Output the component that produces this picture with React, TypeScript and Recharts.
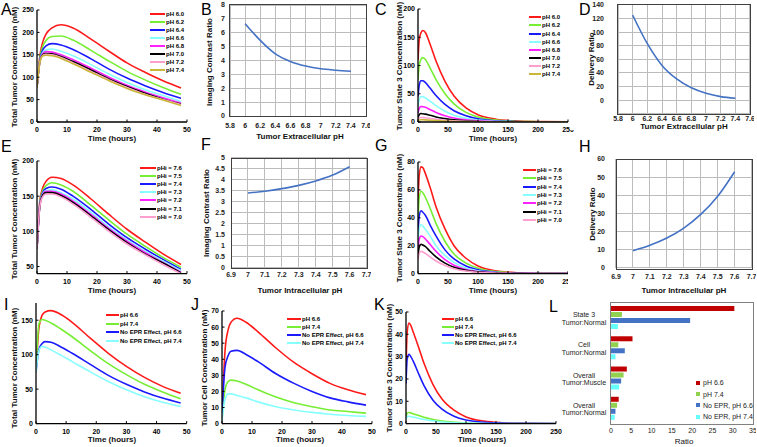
import React from 'react';
import { LineChart, Line, XAxis, YAxis, BarChart, Bar } from 'recharts';

const FONT = '"Liberation Sans", Arial, Helvetica, sans-serif';

// time grids (hours)
const hoursShort = [0, 1, 2, 3, 5, 8, 12, 18, 24, 30, 36, 42, 48];
const hoursLong = [0, 2, 5, 8, 12, 20, 30, 45, 60, 80, 100, 130, 160, 200, 250];

// legend labels + colours
const pheNames = ['pH 6.0', 'pH 6.2', 'pH 6.4', 'pH 6.6', 'pH 6.8', 'pH 7.0', 'pH 7.2', 'pH 7.4'];
const phiNames = ['pHi = 7.6', 'pHi = 7.5', 'pHi = 7.4', 'pHi = 7.3', 'pHi = 7.2', 'pHi = 7.1', 'pHi = 7.0'];
const eprNames = ['pH 6.6', 'pH 7.4', 'No EPR Effect, pH 6.6', 'No EPR Effect, pH 7.4'];
const lineColors = ['#ff1a1a', '#77ee33', '#1a1aff', '#88ffff', '#ff22ff', '#000000', '#ff9fcf', '#c9b838'];

// A: total tumor concentration vs pHe
const a60 = [78, 150, 180, 196, 210, 217, 210, 185, 158, 132, 111, 92, 76];
const a62 = [78, 145, 170, 182, 191, 192, 183, 160, 136, 113, 94, 77, 62];
const a64 = [78, 140, 162, 170, 175, 172, 162, 141, 118, 98, 81, 66, 53];
const a66 = [78, 138, 156, 161, 163, 158, 148, 128, 107, 88, 72, 59, 46];
const a68 = [78, 137, 153, 157, 156, 150, 139, 120, 100, 82, 67, 54, 42];
const a70 = [78, 136, 151, 153, 152, 146, 135, 116, 96, 79, 64, 51, 40];
const a72 = [78, 135, 149, 151, 150, 144, 132, 113, 94, 77, 62, 50, 39];
const a74 = [78, 134, 148, 149, 148, 142, 130, 111, 92, 75, 61, 49, 37];

// C: tumor state 3 concentration vs pHe
const c60 = [110, 145, 158, 162, 159, 138, 108, 72, 46, 25, 13, 5, 2, 0.7, 0.2];
const c62 = [75, 100, 111, 114, 111, 96, 75, 50, 32, 17, 9, 3.5, 1.4, 0.5, 0.1];
const c64 = [45, 65, 73, 73, 70, 60, 47, 31, 20, 11, 5.5, 2, 0.9, 0.3, 0.1];
const c66 = [27, 40, 45, 45, 43, 37, 29, 19, 12, 6.5, 3.4, 1.3, 0.5, 0.2, 0];
const c68 = [16, 24, 27.5, 27, 26, 22, 17, 11, 7, 3.8, 2, 0.8, 0.3, 0.1, 0];
const c70 = [8, 13, 15, 14.5, 14, 12, 9, 6, 3.8, 2, 1, 0.4, 0.2, 0.1, 0];
const c72 = [4, 7, 8, 7.8, 7.4, 6.3, 4.8, 3.1, 2, 1.1, 0.6, 0.2, 0.1, 0, 0];
const c74 = [2, 3.5, 4, 3.9, 3.7, 3.1, 2.4, 1.6, 1, 0.5, 0.3, 0.1, 0, 0, 0];

// E: total tumor concentration vs pHi
const e76 = [75, 145, 163, 171, 177, 175, 166, 146, 124, 103, 85, 68, 53];
const e75 = [75, 143, 159, 165, 169, 166, 157, 137, 116, 96, 79, 63, 49];
const e74 = [75, 141, 156, 161, 163, 160, 150, 131, 110, 91, 75, 60, 46];
const e73 = [75, 140, 154, 158, 159, 155, 146, 127, 106, 88, 72, 58, 44];
const e72 = [75, 139, 153, 157, 157, 153, 143, 124, 104, 86, 70, 56, 42];
const e71 = [75, 138, 152, 155, 155, 151, 141, 122, 102, 84, 68, 55, 41];
const e70 = [75, 137, 150, 153, 153, 149, 139, 120, 100, 82, 67, 53, 40];

// G: tumor state 3 concentration vs pHi
const g76 = [50, 70, 76.5, 76, 72, 62, 48, 32, 20, 11, 5.5, 2, 0.8, 0.3, 0.1];
const g75 = [38, 54, 59, 58, 55, 47, 36, 23, 14, 7.5, 3.8, 1.4, 0.5, 0.2, 0];
const g74 = [29, 41, 45, 44, 42, 35, 27, 17, 10.5, 5.5, 2.8, 1, 0.4, 0.1, 0];
const g73 = [22, 32, 35, 34, 32, 27, 20, 13, 8, 4, 2, 0.8, 0.3, 0.1, 0];
const g72 = [17, 24.5, 27, 26.5, 25, 21, 16, 10, 6, 3, 1.5, 0.6, 0.2, 0.1, 0];
const g71 = [13, 19, 21, 20.5, 19.5, 16, 12, 7.5, 4.5, 2.3, 1.2, 0.4, 0.2, 0, 0];
const g70 = [10, 14.5, 16, 15.5, 14.5, 12, 9, 5.8, 3.5, 1.8, 0.9, 0.3, 0.1, 0, 0];

// I: total tumor concentration, EPR comparison
const i66 = [75, 140, 157, 162, 164, 159, 147, 124, 102, 83, 67, 54, 44];
const i74 = [75, 145, 151, 150, 146, 138, 126, 106, 87, 71, 57, 46, 36];
const iNo66 = [75, 108, 116, 119, 118, 112, 102, 86, 70, 57, 46, 37, 30];
const iNo74 = [75, 106, 112, 111, 107, 100, 90, 75, 61, 49, 39, 31, 25];

// J: tumor cell concentration
const j66 = [5, 45, 58, 63, 65.5, 63, 57, 47, 38, 31, 25, 21, 18];
const j74 = [3, 21, 26, 27, 26.5, 24.5, 21, 16.5, 13, 10.5, 8.5, 7.5, 6.5];
const jNo66 = [5, 35, 42, 45, 45.5, 43, 38.5, 31, 25, 20, 16, 13.5, 11.5];
const jNo74 = [2, 15, 18.5, 18.5, 17.5, 16, 13.5, 10.5, 8.5, 7, 5.8, 5, 4.5];

// K: tumor state 3 concentration
const k66 = [25, 41, 45, 44, 41, 35, 27, 17.5, 11, 6, 3, 1.1, 0.4, 0.1, 0];
const k74 = [3, 4.7, 5, 4.8, 4.4, 3.7, 2.8, 1.8, 1.1, 0.6, 0.3, 0.1, 0, 0, 0];
const kNo66 = [18, 29, 31, 30, 28, 23, 17, 10.5, 6.5, 3.3, 1.6, 0.6, 0.2, 0.1, 0];
const kNo74 = [2, 3.2, 3.3, 3.1, 2.9, 2.4, 1.8, 1.2, 0.7, 0.4, 0.2, 0.1, 0, 0, 0];

// B, D: extracellular pH sweeps
const phExt = [6.0, 6.2, 6.4, 6.6, 6.8, 7.0, 7.2, 7.4];
const contrastExt = [6.65, 5.45, 4.48, 3.93, 3.6, 3.4, 3.3, 3.23];
const deliveryExt = [125, 83, 51, 31, 18, 10, 5, 2.5];

// F, H: intracellular pH sweeps
const phInt = [7.0, 7.1, 7.2, 7.3, 7.4, 7.5, 7.6];
const contrastInt = [3.4, 3.48, 3.6, 3.75, 3.95, 4.22, 4.6];
const deliveryInt = [9.5, 12.5, 16.5, 22, 29.5, 39.5, 53];

// L: ratios
const ratioCats = ['State 3\nTumor:Normal', 'Cell\nTumor:Normal', 'Overall\nTumor:Muscle', 'Overall\nTumor:Normal'];
const ratioPh66 = [30.4, 5.3, 3.9, 1.9];
const ratioPh74 = [2.7, 1.8, 3.1, 1.5];
const ratioNoEpr66 = [19.5, 3.4, 2.5, 1.1];
const ratioNoEpr74 = [1.7, 1.1, 2.0, 0.9];
const ratioNames = ['pH 6.6', 'pH 7.4', 'No EPR, pH 6.6', 'No EPR, pH 7.4'];
const ratioColors = ['#c00000', '#92d050', '#4472c4', '#66ffff'];

function toRows(t: number[], series: number[][]) {
  return t.map((x, i) => {
    const row: Record<string, number> = { t: x };
    series.forEach((s, j) => {
      row['s' + j] = s[i];
    });
    return row;
  });
}

const rowsA = toRows(hoursShort, [a60, a62, a64, a66, a68, a70, a72, a74]);
const rowsC = toRows(hoursLong, [c60, c62, c64, c66, c68, c70, c72, c74]);
const rowsE = toRows(hoursShort, [e76, e75, e74, e73, e72, e71, e70]);
const rowsG = toRows(hoursLong, [g76, g75, g74, g73, g72, g71, g70]);
const rowsI = toRows(hoursShort, [i66, i74, iNo66, iNo74]);
const rowsJ = toRows(hoursShort, [j66, j74, jNo66, jNo74]);
const rowsK = toRows(hoursLong, [k66, k74, kNo66, kNo74]);
const rowsB = toRows(phExt, [contrastExt]);
const rowsD = toRows(phExt, [deliveryExt]);
const rowsF = toRows(phInt, [contrastInt]);
const rowsH = toRows(phInt, [deliveryInt]);
const rowsL = ratioCats.map((c, i) => ({
  cat: c,
  a: ratioPh66[i],
  b: ratioPh74[i],
  c: ratioNoEpr66[i],
  d: ratioNoEpr74[i],
}));

type Box = { x0: number; y0: number; x1: number; y1: number };

function frame(box: Box, yw: number, xh: number, mt: number, mr: number) {
  return {
    left: box.x0 - yw,
    top: box.y0 - mt,
    width: box.x1 - box.x0 + yw + mr,
    height: box.y1 - box.y0 + mt + xh,
    margin: { top: mt, right: mr, bottom: 0, left: 0 },
  };
}

const range = (a: number, b: number, s: number) => {
  const out: number[] = [];
  for (let v = a; v <= b + 1e-9; v += s) out.push(Math.round(v * 100) / 100);
  return out;
};

const boldTick = { fontSize: 7, fontWeight: 700, fill: '#000', fontFamily: FONT };

// plot frame drawn on top of a panel's plotting box
function BoxBorder({ box, color }: { box: Box; color: string }) {
  return (
    <div
      style={{
        position: 'absolute',
        left: box.x0 - 0.6,
        top: box.y0 - 0.6,
        width: box.x1 - box.x0,
        height: box.y1 - box.y0,
        border: `1.2px solid ${color}`,
        pointerEvents: 'none',
      }}
    />
  );
}

// MATLAB style time course panel (inward ticks)
function TimePanel(p: {
  box: Box;
  rows: any[];
  count: number;
  xMax: number;
  yDomain: [number, number];
  yStep: number;
  yTickFrom?: number;
}) {
  const f = frame(p.box, 30, 18, 4, 6);
  return (
    <div style={{ position: 'absolute', left: f.left, top: f.top }}>
      <LineChart width={f.width} height={f.height} data={p.rows} margin={f.margin}>
        <XAxis
          type="number"
          dataKey="t"
          domain={[0, p.xMax]}
          ticks={range(0, p.xMax, p.xMax / 5)}
          interval={0}
          allowDataOverflow
          height={18}
          tickLine={{ stroke: '#000', strokeWidth: 1 }}
          tickSize={-2.5}
          tickMargin={8}
          axisLine={{ stroke: '#000', strokeWidth: 1.3 }}
          tick={boldTick}
        />
        <YAxis
          type="number"
          domain={p.yDomain}
          ticks={range(p.yTickFrom ?? p.yDomain[0], p.yDomain[1], p.yStep)}
          interval={0}
          allowDataOverflow
          width={30}
          tickLine={{ stroke: '#000', strokeWidth: 1 }}
          tickSize={-2.5}
          tickMargin={5.5}
          axisLine={{ stroke: '#000', strokeWidth: 1.3 }}
          tick={boldTick}
        />
        {Array.from({ length: p.count }, (_, i) => (
          <Line
            key={i}
            type="monotone"
            dataKey={'s' + i}
            stroke={lineColors[i]}
            strokeWidth={1.6}
            dot={false}
            isAnimationActive={false}
          />
        ))}
      </LineChart>
    </div>
  );
}

// Excel style sweep panel; the grid is the axes' tick lines stretched across the plot
function SweepPanel(p: {
  box: Box;
  rows: any[];
  xDomain: [number, number];
  xStep: number;
  yDomain: [number, number];
  yStep: number;
  yGap: number;
  xGap: number;
  hideNeg?: boolean;
  white?: boolean;
}) {
  const yw = 48;
  const f = frame(p.box, yw, 16, 4, 4);
  const plotW = p.box.x1 - p.box.x0;
  const plotH = p.box.y1 - p.box.y0;
  const gridLine = { stroke: '#bcbcbc', strokeWidth: 1, shapeRendering: 'crispEdges' };
  return (
    <>
      <div style={{ position: 'absolute', left: f.left, top: f.top, background: p.white ? '#fff' : 'transparent' }}>
        <LineChart width={f.width} height={f.height} data={p.rows} margin={f.margin}>
          <XAxis
            type="number"
            dataKey="t"
            domain={p.xDomain}
            ticks={range(p.xDomain[0], p.xDomain[1], p.xStep)}
            interval={0}
            allowDataOverflow
            height={16}
            tickLine={gridLine}
            axisLine={false}
            tickSize={-plotH}
            tickMargin={plotH + p.xGap}
            tick={{ ...boldTick, fill: '#222' }}
          />
          <YAxis
            type="number"
            domain={p.yDomain}
            ticks={range(p.yDomain[0], p.yDomain[1], p.yStep)}
            interval={0}
            allowDataOverflow
            width={yw}
            tickLine={gridLine}
            axisLine={false}
            tickSize={-plotW}
            tickMargin={plotW + p.yGap}
            tick={{ ...boldTick, fill: '#222' }}
            tickFormatter={(v: number) => (p.hideNeg && v < 0 ? '' : String(v))}
          />
          <Line
            type="monotone"
            dataKey="s0"
            stroke="#4472c4"
            strokeWidth={1.6}
            dot={false}
            isAnimationActive={false}
            zIndex={900}
          />
        </LineChart>
      </div>
      <BoxBorder box={p.box} color="#404040" />
    </>
  );
}

function CatTick(props: any) {
  const { x, y, payload } = props;
  const lines = String(payload.value).split('\n');
  return (
    <text x={x - 27} y={y} textAnchor="middle" fontSize={7} fill="#222" fontFamily={FONT}>
      {lines.map((l, i) => (
        <tspan key={i} x={x - 27} dy={i === 0 ? -1 : 7.5}>
          {l}
        </tspan>
      ))}
    </text>
  );
}

const ratioBox = { x0: 611, y0: 303, x1: 753, y1: 424 };

function RatioPanel() {
  const f = frame(ratioBox, 60, 16, 2, 3);
  return (
    <>
      <div style={{ position: 'absolute', left: f.left, top: f.top }}>
        <BarChart
          width={f.width}
          height={f.height}
          data={rowsL}
          layout="vertical"
          margin={f.margin}
          barCategoryGap="10%"
          barGap={1}
        >
          <XAxis
            type="number"
            domain={[0, 35]}
            ticks={range(0, 35, 5)}
            interval={0}
            height={16}
            tickLine={false}
            axisLine={false}
            tickSize={0}
            tickMargin={4}
            tick={{ fontSize: 7, fill: '#222', fontFamily: FONT }}
          />
          <YAxis
            type="category"
            dataKey="cat"
            width={60}
            tickLine={false}
            axisLine={false}
            tickSize={0}
            tickMargin={0}
            interval={0}
            tick={<CatTick />}
          />
          <Bar dataKey="a" fill={ratioColors[0]} isAnimationActive={false} />
          <Bar dataKey="b" fill={ratioColors[1]} isAnimationActive={false} />
          <Bar dataKey="c" fill={ratioColors[2]} isAnimationActive={false} />
          <Bar dataKey="d" fill={ratioColors[3]} isAnimationActive={false} />
        </BarChart>
      </div>
      <BoxBorder box={ratioBox} color="#808080" />
    </>
  );
}

function LineKey(p: { x: number; y: number; step: number; len: number; names: string[] }) {
  return (
    <>
      {p.names.map((n, i) => (
        <div
          key={n}
          style={{
            position: 'absolute',
            left: p.x,
            top: p.y + i * p.step - 4,
            height: 8,
            display: 'flex',
            alignItems: 'center',
            whiteSpace: 'nowrap',
            fontFamily: FONT,
            fontWeight: 700,
            fontSize: 6,
            lineHeight: 1,
          }}
        >
          <span style={{ display: 'inline-block', width: p.len, height: 2, background: lineColors[i], marginRight: 1 }} />
          <span>{n}</span>
        </div>
      ))}
    </>
  );
}

function XTitle(p: { x: number; y: number; text: string; size?: number; bold?: boolean }) {
  return (
    <div
      style={{
        position: 'absolute',
        left: p.x,
        top: p.y,
        transform: 'translate(-50%,-50%)',
        whiteSpace: 'nowrap',
        fontFamily: FONT,
        fontWeight: p.bold === false ? 400 : 700,
        fontSize: p.size ?? 8,
        lineHeight: 1,
        color: '#111',
      }}
    >
      {p.text}
    </div>
  );
}

function YTitle(p: { x: number; y: number; text: string; size?: number }) {
  return (
    <div
      style={{
        position: 'absolute',
        left: p.x,
        top: p.y,
        transform: 'translate(-50%,-50%) rotate(-90deg)',
        whiteSpace: 'nowrap',
        fontFamily: FONT,
        fontWeight: 700,
        fontSize: p.size ?? 8,
        lineHeight: 1,
        color: '#111',
      }}
    >
      {p.text}
    </div>
  );
}

function Letter(p: { x: number; y: number; t: string }) {
  return (
    <div style={{ position: 'absolute', left: p.x, top: p.y, fontFamily: FONT, fontSize: 16, lineHeight: 1, color: '#000' }}>
      {p.t}
    </div>
  );
}

export default function App() {
  return (
    <div style={{ position: 'fixed', left: 0, top: 0, width: 757, height: 447, background: '#fff', overflow: 'hidden' }}>
      {/* row 1 */}
      <TimePanel box={{ x0: 37, y0: 10, x1: 187, y1: 122 }} rows={rowsA} count={8} xMax={50} yDomain={[0, 250]} yStep={50} />
      <SweepPanel box={{ x0: 230, y0: 5, x1: 366, y1: 116 }} rows={rowsB} xDomain={[5.8, 7.6]} xStep={0.2} yDomain={[0, 8]} yStep={1} yGap={5} xGap={7} />
      <TimePanel box={{ x0: 418, y0: 9, x1: 568, y1: 122 }} rows={rowsC} count={8} xMax={250} yDomain={[0, 200]} yStep={50} />
      <SweepPanel box={{ x0: 618, y0: 5, x1: 750, y1: 113.6 }} rows={rowsD} xDomain={[5.8, 7.6]} xStep={0.2} yDomain={[-20, 140]} yStep={20} yGap={14} xGap={2} hideNeg white />

      {/* row 2 */}
      <TimePanel box={{ x0: 37, y0: 160.7, x1: 187, y1: 273.3 }} rows={rowsE} count={7} xMax={50} yDomain={[40, 200]} yStep={50} yTickFrom={50} />
      <SweepPanel box={{ x0: 231.4, y0: 158.3, x1: 367, y1: 267.7 }} rows={rowsF} xDomain={[6.9, 7.7]} xStep={0.1} yDomain={[0, 5]} yStep={0.5} yGap={6} xGap={5} />
      <TimePanel box={{ x0: 418, y0: 161.7, x1: 568, y1: 273.3 }} rows={rowsG} count={7} xMax={250} yDomain={[0, 80]} yStep={20} />
      <SweepPanel box={{ x0: 616.4, y0: 159.3, x1: 752, y1: 268.3 }} rows={rowsH} xDomain={[6.9, 7.7]} xStep={0.1} yDomain={[0, 60]} yStep={10} yGap={11} xGap={6} white />

      {/* row 3 */}
      <TimePanel box={{ x0: 36, y0: 302.7, x1: 186.7, y1: 423.3 }} rows={rowsI} count={4} xMax={50} yDomain={[0, 175]} yStep={50} />
      <TimePanel box={{ x0: 221.7, y0: 310.7, x1: 371.7, y1: 423.3 }} rows={rowsJ} count={4} xMax={50} yDomain={[0, 70]} yStep={10} />
      <TimePanel box={{ x0: 406, y0: 311.7, x1: 556, y1: 423.3 }} rows={rowsK} count={4} xMax={250} yDomain={[0, 50]} yStep={10} />
      <RatioPanel />

      {/* axis titles */}
      <YTitle x={15} y={67} text="Total Tumor Concentration (nM)" />
      <XTitle x={112} y={139} text="Time (hours)" />
      <YTitle x={210} y={62} text="Imaging Contrast Ratio" />
      <XTitle x={300} y={137} text="Tumor Extracellular pH" />
      <YTitle x={400} y={66} text="Tumor State 3 Concentration (nM)" />
      <XTitle x={493} y={139} text="Time (hours)" />
      <YTitle x={592} y={59} text="Delivery Ratio" />
      <XTitle x={684} y={127} text="Tumor Extracellular pH" />

      <YTitle x={15} y={219} text="Total Tumor Concentration (nM)" />
      <XTitle x={112} y={291} text="Time (hours)" />
      <YTitle x={207} y={213} text="Imaging Contrast Ratio" />
      <XTitle x={300} y={291} text="Tumor Intracellular pH" />
      <YTitle x={400} y={218} text="Tumor State 3 Concentration (nM)" />
      <XTitle x={493} y={291} text="Time (hours)" />
      <YTitle x={593} y={214} text="Delivery Ratio" />
      <XTitle x={684} y={291} text="Tumor Intracellular pH" />

      <YTitle x={15} y={368} text="Total Tumor Concentration (nM)" />
      <XTitle x={112} y={440} text="Time (hours)" />
      <YTitle x={205} y={368} text="Tumor Cell Concentration (nM)" />
      <XTitle x={300} y={440} text="Time (hours)" />
      <YTitle x={390} y={368} text="Tumor State 3 Concentration (nM)" />
      <XTitle x={482} y={440} text="Time (hours)" />
      <XTitle x={684} y={442} text="Ratio" bold={false} />

      {/* legends */}
      <LineKey x={150} y={13.5} step={8} len={15} names={pheNames} />
      <LineKey x={529} y={17.3} step={8.1} len={12} names={pheNames} />
      <LineKey x={140} y={167.7} step={8.17} len={16} names={phiNames} />
      <LineKey x={523} y={170} step={8.33} len={13} names={phiNames} />
      <LineKey x={106} y={315} step={8.67} len={13} names={eprNames} />
      <LineKey x={287} y={319.3} step={7.8} len={14} names={eprNames} />
      <LineKey x={442} y={318.7} step={8.2} len={12} names={eprNames} />
      {ratioNames.map((n, i) => (
        <div
          key={n}
          style={{
            position: 'absolute',
            left: 696,
            top: 382.7 + i * 11.3 - 4,
            height: 8,
            display: 'flex',
            alignItems: 'center',
            whiteSpace: 'nowrap',
            fontFamily: FONT,
            fontSize: 7,
            lineHeight: 1,
            color: '#222',
          }}
        >
          <span style={{ display: 'inline-block', width: 4, height: 4, background: ratioColors[i], marginRight: 3 }} />
          <span>{n}</span>
        </div>
      ))}

      {/* panel letters */}
      <Letter x={1} y={2} t="A" />
      <Letter x={201} y={2} t="B" />
      <Letter x={375} y={2} t="C" />
      <Letter x={579} y={2} t="D" />
      <Letter x={1} y={139} t="E" />
      <Letter x={201} y={137} t="F" />
      <Letter x={375} y={138} t="G" />
      <Letter x={579} y={139} t="H" />
      <Letter x={4} y={297} t="I" />
      <Letter x={191} y={297} t="J" />
      <Letter x={374} y={297} t="K" />
      <Letter x={549} y={299} t="L" />
    </div>
  );
}
